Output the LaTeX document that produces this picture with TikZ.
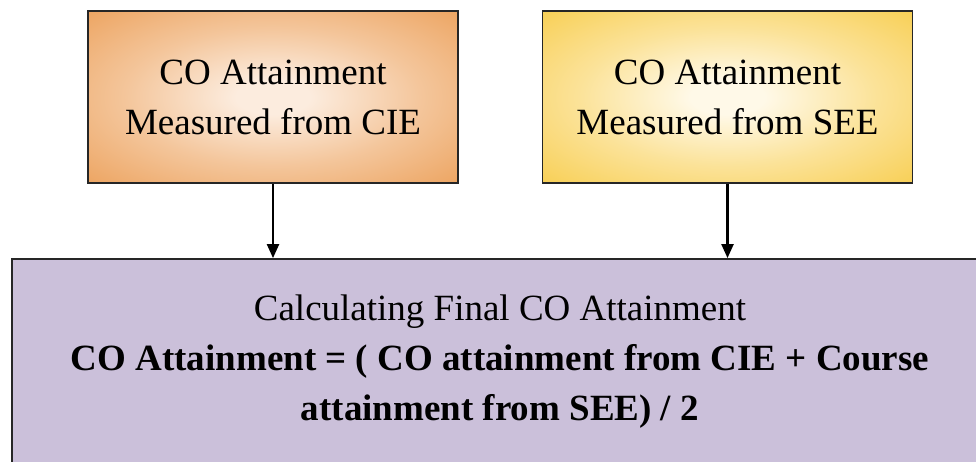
\documentclass[tikz,border=0pt]{standalone}
\usepackage{fontspec}
\setmainfont{Liberation Serif}
\usetikzlibrary{arrows.meta}
\definecolor{orEdge}{RGB}{237,166,100}
\definecolor{orMid}{RGB}{252,236,222}
\definecolor{yeEdge}{RGB}{248,208,88}
\definecolor{yeMid}{RGB}{255,249,232}
\definecolor{lav}{RGB}{203,192,218}
\pgfdeclareradialshading{orshade}{\pgfpoint{0bp}{0bp}}{color(0bp)=(orMid); color(5bp)=(orMid); color(20bp)=(orMid!45!orEdge); color(35bp)=(orEdge); color(50bp)=(orEdge)}
\pgfdeclareradialshading{yeshade}{\pgfpoint{0bp}{0bp}}{color(0bp)=(yeMid); color(5bp)=(yeMid); color(20bp)=(yeMid!45!yeEdge); color(35bp)=(yeEdge); color(50bp)=(yeEdge)}
\tikzset{
  topbox/.style={draw=black!85, line width=1.8pt, minimum width=370pt, minimum height=172pt,
    align=center, inner sep=0pt, font=\fontsize{37}{50}\selectfont},
  botbox/.style={draw=black!85, line width=1.8pt, fill=lav, minimum width=976pt, minimum height=206pt,
    align=center, inner sep=0pt, font=\fontsize{37}{50}\selectfont},
  conn/.style={line width=2.2pt, -{Triangle[length=14pt,width=12pt]}}
}
\begin{document}
\begin{tikzpicture}[x=1pt,y=-1pt]
\useasboundingbox (0,0) rectangle (976,462);
\clip (0,0) rectangle (976,462);
\node[topbox, shading=orshade] (cie) at (273,97) {CO Attainment\\Measured from CIE};
\node[topbox, shading=yeshade] (see) at (727.5,97) {CO Attainment\\Measured from SEE};
\node[botbox] (fin) at (500,362) {Calculating Final CO Attainment\\\textbf{CO Attainment = ( CO attainment from CIE + Course}\\\textbf{attainment from SEE) / 2}};
\draw[conn] (cie.south) -- (cie.south |- fin.north);
\draw[conn] (see.south) -- (see.south |- fin.north);
\end{tikzpicture}
\end{document}
